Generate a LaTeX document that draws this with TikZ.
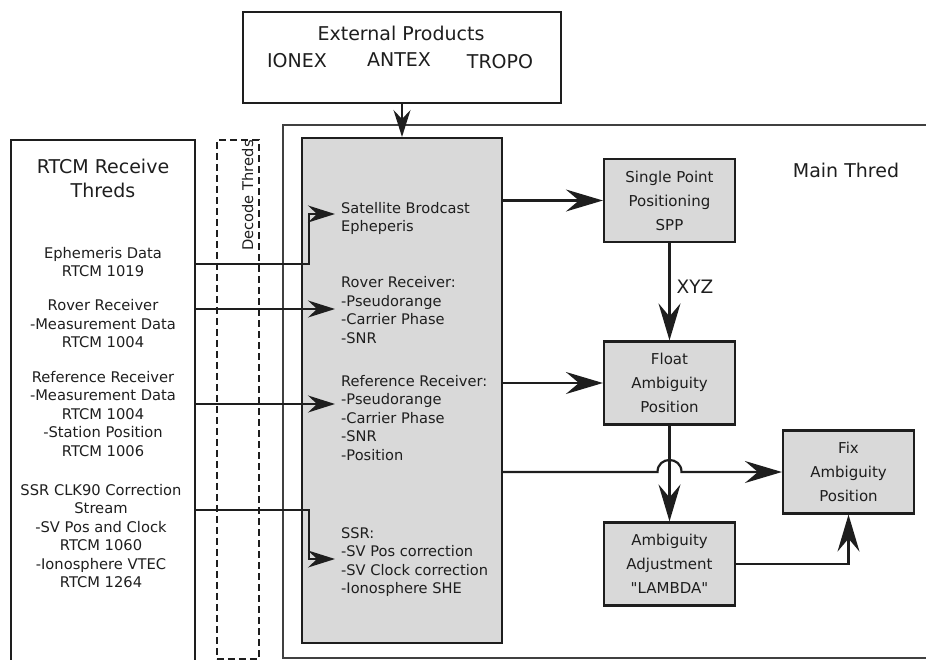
\documentclass[tikz,border=0pt]{standalone}
\usepackage{fontspec}
\setmainfont{DejaVu Sans}[Ligatures=TeXOff]
\usetikzlibrary{arrows.meta,calc}
\definecolor{ink}{HTML}{1E1E1E}
\definecolor{procfill}{HTML}{D9D9D9}
\begin{document}
\begin{tikzpicture}[x=1pt,y=-1pt,
  every node/.style={text=ink},
  frame/.style={draw=ink, line width=2pt, inner sep=0pt},
  procbox/.style={draw=ink, line width=2.2pt, fill=procfill, minimum width=131pt,
    minimum height=83pt, align=center, inner sep=0pt,
    font=\fontsize{15}{24}\selectfont},
  bodytext/.style={font=\fontsize{14.6}{18.5}\selectfont, align=left, inner sep=0pt, anchor=west},
  lefttext/.style={font=\fontsize{14.7}{18.5}\selectfont, align=center, inner sep=0pt},
  titletext/.style={font=\fontsize{19}{24}\selectfont, align=center, inner sep=0pt},
  thinlink/.style={draw=ink, line width=1.5pt},
  thicklink/.style={draw=ink, line width=2.2pt},
  smalltip/.style={-{Stealth[length=27pt,width=17pt,inset=9pt]}},
  bigtip/.style={-{Stealth[length=37pt,width=22pt,inset=13pt]}}
]
\useasboundingbox (0,0) rectangle (926,659);
\clip (0,0) rectangle (926,659);

% frames of the three thread groups
\node[frame, draw=ink!85, anchor=north west, minimum width=700pt, minimum height=533pt] (mainthr) at (282,124) {};
\node[frame, anchor=north west, minimum width=184.5pt, minimum height=580pt] (rtcm) at (9.5,139) {};
\begin{scope}
  \clip (216,139) rectangle (258,659);
  \node[font=\fontsize{14.7}{18}\selectfont, rotate=90, anchor=base west, inner sep=0pt] (decodelbl) at (253,251) {Decode Threds};
\end{scope}
\node[draw=ink, line width=1.8pt, dash pattern=on 7pt off 4pt, anchor=north west,
      minimum width=42pt, minimum height=519pt, inner sep=0pt] (decode) at (216,139) {};

% titles
\node[titletext] (rtcmlbl) at (103,178) {RTCM Receive\\Threds};
\node[titletext] (mainlbl) at (846,170) {Main Thred};

% external products
\node[frame, fill=white, anchor=north west, minimum width=318pt, minimum height=91pt] (ext) at (242,10.5) {};
\node[titletext] (extlbl) at (401,33) {External Products};
\node[titletext] (ionex) at (297,61) {IONEX};
\node[titletext] (antex) at (399,60) {ANTEX};
\node[titletext] (tropo) at (500,62) {TROPO};

% central data block
\node[frame, fill=procfill, anchor=north west, minimum width=200pt, minimum height=505pt] (data) at (301,137) {};
\node[bodytext] (sat) at (341,218.5) {Satellite Brodcast\\Epheperis};
\node[bodytext] (rover) at (341,310) {Rover Receiver:\\-Pseudorange\\-Carrier Phase\\-SNR};
\node[bodytext] (ref) at (341,418) {Reference Receiver:\\-Pseudorange\\-Carrier Phase\\-SNR\\-Position};
\node[bodytext] (ssr) at (341,562) {SSR:\\-SV Pos correction\\-SV Clock correction\\-Ionosphere SHE};

% incoming streams
\node[lefttext] (ephin) at (103,262) {Ephemeris Data\\RTCM 1019};
\node[lefttext] (roverin) at (103,324) {Rover Receiver\\-Measurement Data\\RTCM 1004};
\node[lefttext] (refin) at (103,414) {Reference Receiver\\-Measurement Data\\RTCM 1004\\-Station Position\\RTCM 1006};
\node[lefttext] (ssrin) at (101,536) {SSR CLK90 Correction\\Stream\\-SV Pos and Clock\\RTCM 1060\\-Ionosphere VTEC\\RTCM 1264};

% processing steps
\node[procbox] (spp) at (669.5,200.5) {Single Point\\Positioning\\SPP};
\node[procbox] (float) at (669.5,383) {Float\\Ambiguity\\Position};
\node[procbox] (fix) at (848.5,472) {Fix\\Ambiguity\\Position};
\node[procbox] (adj) at (669.5,564) {Ambiguity\\Adjustment\\"LAMBDA"};

% connector end points
\coordinate (ephout) at (194,264);
\coordinate (roverout) at (194,309);
\coordinate (refout) at (194,404);
\coordinate (ssrout) at (194,510);
\coordinate (satin) at (335,214);
\coordinate (roverin2) at (335,309);
\coordinate (refin2) at (335,404);
\coordinate (ssrin2) at (335,559);

% decoded streams into the data block
\draw[thinlink, smalltip] (ephout) -- (309,264) -- (309,214) -- (satin);
\draw[thinlink, smalltip] (roverout) -- (roverin2);
\draw[thinlink, smalltip] (refout) -- (refin2);
\draw[thinlink, smalltip] (ssrout) -- (309,510) -- (309,559) -- (ssrin2);

% external products into the data block
\draw[thinlink, smalltip] (ext.south) -- (data.north);

% main processing chain
\draw[thicklink, bigtip] (data.east |- spp.west) -- (spp.west);
\draw[thicklink, bigtip] (spp.south) -- node[pos=0.45, right=6pt, font=\fontsize{18.5}{20}\selectfont, inner sep=0pt] (xyz) {XYZ} (float.north);
\draw[thicklink, bigtip] (data.east |- float.west) -- (float.west);
\draw[thicklink, bigtip] (float.south) -- (adj.north);
\draw[thicklink, bigtip] (data.east |- fix.west) -- (657.5,472)
   .. controls (657.5,456) and (681.5,456) .. (681.5,472) -- (fix.west);
\draw[thicklink, bigtip] (adj.east) -| (fix.south);
\end{tikzpicture}
\end{document}
